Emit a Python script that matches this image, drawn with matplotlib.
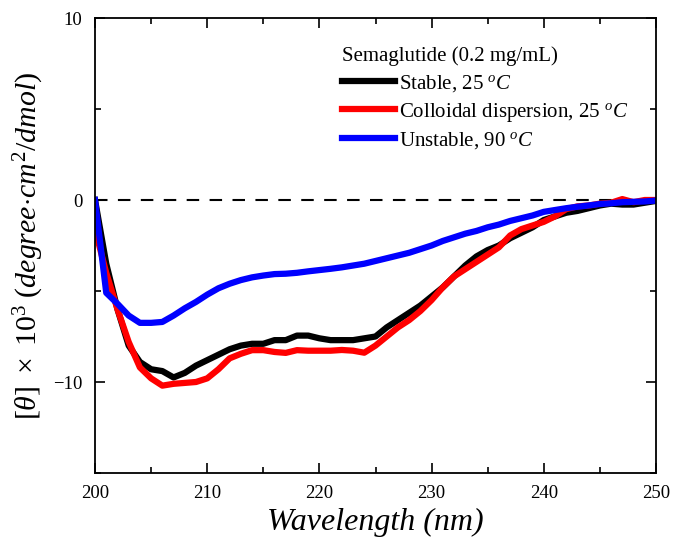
import matplotlib
matplotlib.use("Agg")
import matplotlib.pyplot as plt
from matplotlib.ticker import MultipleLocator

plt.rcParams['font.family'] = ['Liberation Serif', 'DejaVu Serif']
plt.rcParams['mathtext.fontset'] = 'custom'
plt.rcParams['mathtext.rm'] = 'Liberation Serif'
plt.rcParams['mathtext.it'] = 'Liberation Serif:italic'
plt.rcParams['mathtext.bf'] = 'Liberation Serif:bold'

wavelength = list(range(200, 251))

stable_25 = [0, -3.5, -6.0, -8.0, -8.9, -9.3, -9.4, -9.75, -9.5, -9.1,
             -8.8, -8.5, -8.2, -8.0, -7.9, -7.9, -7.7, -7.7, -7.45, -7.45,
             -7.6, -7.7, -7.7, -7.7, -7.6, -7.5, -7.0, -6.6, -6.2, -5.8,
             -5.3, -4.8, -4.2, -3.6, -3.1, -2.75, -2.5, -2.1, -1.8, -1.5,
             -1.1, -0.9, -0.7, -0.6, -0.45, -0.3, -0.2, -0.25, -0.25, -0.15,
             -0.05]

colloidal_25 = [-1.6, -4.0, -6.0, -7.8, -9.2, -9.8, -10.2, -10.1, -10.05, -10.0,
                -9.8, -9.3, -8.7, -8.45, -8.25, -8.25, -8.35, -8.4, -8.25, -8.28,
                -8.28, -8.28, -8.24, -8.28, -8.39, -8.0, -7.5, -7.0, -6.6, -6.1,
                -5.5, -4.8, -4.2, -3.8, -3.4, -3.0, -2.6, -1.95, -1.6, -1.4,
                -1.2, -0.9, -0.5, -0.35, -0.3, -0.2, -0.15, 0.05, -0.12, 0.0,
                0.0]

unstable_90 = [0, -5.1, -5.7, -6.35, -6.75, -6.75, -6.7, -6.35, -5.95, -5.6,
               -5.2, -4.85, -4.6, -4.4, -4.25, -4.15, -4.07, -4.05, -4.0, -3.92,
               -3.85, -3.78, -3.7, -3.6, -3.5, -3.35, -3.2, -3.05, -2.9, -2.7,
               -2.5, -2.25, -2.05, -1.85, -1.7, -1.5, -1.35, -1.15, -1.0, -0.85,
               -0.65, -0.55, -0.45, -0.37, -0.3, -0.22, -0.18, -0.12, -0.1, -0.08,
               -0.03]

labels = [r'Stable, 25 $^{o}C$',
          r'Colloidal dispersion, 25 $^{o}C$',
          r'Unstable, 90 $^{o}C$']
colors = ['#000000', '#ff0000', '#0000ff']
legend_title = 'Semaglutide (0.2 mg/mL)'

fig = plt.figure(figsize=(6.73, 5.41), dpi=100)
ax = fig.add_axes([0.1412, 0.1257, 0.8335, 0.841])

ax.axhline(0, color='black', lw=1.5, ls=(0, (6, 5)), zorder=1)
for y, lab, c in zip([stable_25, colloidal_25, unstable_90], labels, colors):
    ax.plot(wavelength, y, color=c, lw=4.5, label=lab, solid_joinstyle='round', zorder=2)

ax.set_xlim(200, 250)
ax.set_ylim(-15, 10)
ax.xaxis.set_major_locator(MultipleLocator(10))
ax.xaxis.set_minor_locator(MultipleLocator(5))
ax.yaxis.set_major_locator(MultipleLocator(10))
ax.yaxis.set_minor_locator(MultipleLocator(5))
ax.tick_params(which='both', direction='in', top=True, right=True, width=1.2)
ax.tick_params(which='major', length=7, labelsize=13.5, pad=9)
ax.tick_params(which='minor', length=4)
for s in ax.spines.values():
    s.set_linewidth(1.3)

ax.set_xlabel('Wavelength (nm)', fontsize=23, style='italic', labelpad=4)
ax.set_ylabel(r'$[\theta]\ \times\ 10^3\ (degree{\cdot}cm^2/dmol)$', fontsize=21.5)
ax.yaxis.set_label_coords(-0.088, 0.5)

leg = ax.legend(title=legend_title, loc='upper left', bbox_to_anchor=(0.44, 0.937),
                frameon=False, fontsize=15, title_fontsize=15, handlelength=2.55,
                handletextpad=0.2, labelspacing=0.32, borderaxespad=0, borderpad=0)
leg._legend_box.align = 'left'

fig.savefig('out.png', dpi=100)
